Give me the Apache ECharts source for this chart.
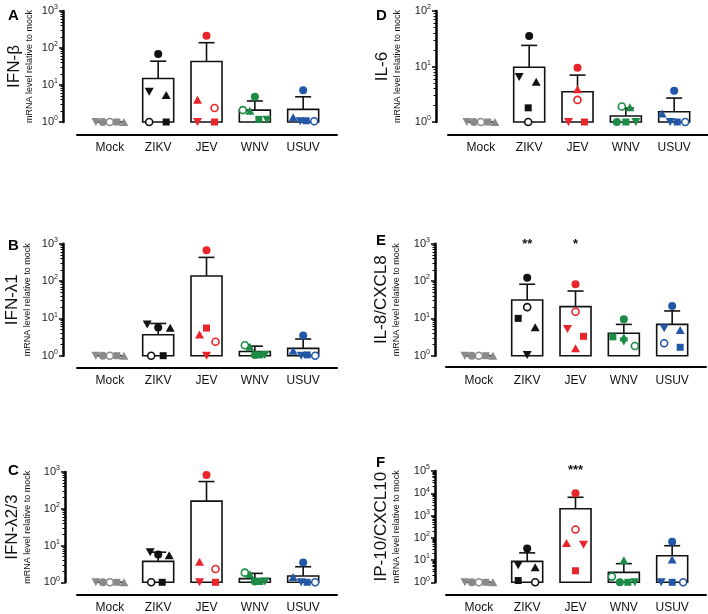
<!DOCTYPE html>
<html>
<head>
<meta charset="utf-8">
<script src="https://cdn.jsdelivr.net/npm/echarts@6/dist/echarts.min.js"></script>
<style>
html,body{margin:0;padding:0;background:#fff}
#chart{width:708px;height:614px}
</style>
</head>
<body>
<div id="chart"></div>
<script>
const categories = ['Mock', 'ZIKV', 'JEV', 'WNV', 'USUV'];
// five donors per group, always in this order
const donors = ['circle', 'openCircle', 'triangle', 'invTriangle', 'square'];

// A  IFN-beta
const meanA = [1, 15, 43, 2.1, 2.2];
const sdTopA = [1, 44, 139, 3.7, 4.8];
const dotsA = [[1, 1, 1, 1, 1], [69, 1, 5.4, 6.6, 1], [215, 2.4, 4.0, 1, 1], [4.8, 2.1, 2.0, 1.15, 1.18], [7.2, 1.05, 1.35, 1.05, 1.08]];
// B  IFN-lambda1
const meanB = [1, 3.65, 136, 1.3, 1.57];
const sdTopB = [1, 7.3, 430, 1.8, 2.8];
const dotsB = [[1, 1, 1, 1, 1], [5.7, 1, 5.6, 6.8, 1], [665, 2.37, 3.7, 1, 5.5], [1.05, 1.9, 1.75, 1.05, 1.05], [3.5, 1, 1.36, 1, 1.05]];
// C  IFN-lambda2/3
const meanC = [1, 3.7, 161, 1.26, 1.48];
const sdTopC = [1, 6.6, 550, 1.75, 2.65];
const dotsC = [[1, 1, 1, 1, 1], [5.7, 1, 5.4, 6.6, 1], [830, 2.3, 3.6, 1, 1], [1.05, 1.83, 1.65, 1.05, 1.05], [3.47, 1, 1.4, 1, 1]];
// D  IL-6
const meanD = [1, 9.7, 3.5, 1.28, 1.53];
const sdTopD = [1, 24, 7, 1.78, 2.7];
const dotsD = [[1, 1, 1, 1, 1], [35.5, 1, 5.3, 6.5, 1.8], [9.5, 2.5, 3.9, 1, 1], [1, 1.9, 1.85, 1, 1], [3.67, 1, 1.43, 1, 1]];
// E  IL-8/CXCL8
const meanE = [1, 31, 20.6, 4.0, 6.9];
const sdTopE = [1, 82, 54, 6.9, 15.8];
const dotsE = [[1, 1, 1, 1, 1], [123, 20, 5.8, 1.04, 10], [82, 15, 1.58, 5.2, 3.3], [9.5, 1.82, 3.1, 2.4, 3.2], [21.5, 2.15, 4.9, 5.4, 1.68]];
const starsE = ['', '**', '*', '', ''];
// F  IP-10/CXCL10
const meanF = [1, 8.7, 2000, 2.8, 15.6];
const sdTopF = [1, 21, 6600, 6.9, 44];
const dotsF = [[1, 1, 1, 1, 1], [33, 1, 4.7, 5.8, 1.2], [10000, 236, 58, 49, 3.3], [1, 1.8, 9.7, 1, 1], [66, 1, 10.7, 1, 1]];
const starsF = ['', '', '***', '', ''];

// horizontal spread of the dots inside each group (px)
const mockSpread = [-7, 0, 14, -14, 7];
const spreadA = [mockSpread, [0, -9, 8, -9, 8], [0, 8, -9, -9, 8], [0, -12, -5, 12, 4], [0, 11, -10, -3, 3]];
const spreadB = [mockSpread, [0, -7, 12, -11, 5], [0, 9, -7, 0, 0], [0, -10, -5, 10, 5], [0, 12, -10, -2, 4]];
const spreadC = [mockSpread, [0, -7, 11, -8, 4], [0, 9, -7, -7, 9], [0, -10, -5, 10, 5], [0, 12, -10, -2, 4]];
const spreadD = [mockSpread, [0, -1, 7, -10, -1], [0, 0, 0, -9, 7], [-9, -4, 4, 10, 0], [0, 11, -12, -4, 3]];
const spreadE = [mockSpread, [0, 0, 8, 0, -9], [0, 0, 0, -8, 8], [0, 11, 0, 0, -11], [0, -8, 8, -8, 8]];
const spreadF = [mockSpread, [0, 8, 8, -9, -9], [0, 0, -9, 8, 0], [-4, -12, 0, 11, 4], [0, 11, 0, -11, 0]];

const colors = ['#8a8a8a', '#111111', '#e8252b', '#1b8b45', '#2257a8'];
const font = '"Liberation Sans", Arial, sans-serif';

const panels = [
  {letter: 'A', title: 'IFN-β', max: 1000, mean: meanA, top: sdTopA, dots: dotsA, spread: spreadA, stars: null,
   left: 77, gridTop: 11, height: 111, xOff: 13, yOff: 14, gap: 28, lx: 3, ly: 3},
  {letter: 'B', title: 'IFN-λ1', max: 1000, mean: meanB, top: sdTopB, dots: dotsB, spread: spreadB, stars: null,
   left: 77, gridTop: 243.7, height: 112, xOff: 12, yOff: 14, gap: 30, lx: 3, ly: 233},
  {letter: 'C', title: 'IFN-λ2/3', max: 1000, mean: meanC, top: sdTopC, dots: dotsC, spread: spreadC, stars: null,
   left: 77, gridTop: 472, height: 111, xOff: 12.7, yOff: 12, gap: 32, lx: 3, ly: 458},
  {letter: 'D', title: 'IL-6', max: 100, mean: meanD, top: sdTopD, dots: dotsD, spread: spreadD, stars: null,
   left: 448, gridTop: 11, height: 111, xOff: 13, yOff: 12, gap: 33, lx: 371, ly: 3},
  {letter: 'E', title: 'IL-8/CXCL8', max: 1000, mean: meanE, top: sdTopE, dots: dotsE, spread: spreadE, stars: starsE, starDy: 1,
   left: 446, gridTop: 243.7, height: 112, xOff: 11.5, yOff: 11, gap: 33, lx: 371, ly: 228},
  {letter: 'F', title: 'IP-10/CXCL10', max: 100000, mean: meanF, top: sdTopF, dots: dotsF, spread: spreadF, stars: starsF, starDy: -1,
   left: 446, gridTop: 471, height: 112, xOff: 12.7, yOff: 11, gap: 33, lx: 371, ly: 450}
];

const grid = [], xAxis = [], yAxis = [], series = [], title = [];

panels.forEach((p, k) => {
  grid.push({left: p.left, top: p.gridTop, width: 260, height: p.height});
  title.push({text: p.letter, left: p.lx, top: p.ly, textStyle: {fontFamily: font, fontWeight: 'bold', fontSize: 15, color: '#000'}});
  xAxis.push({
    gridIndex: k, type: 'value', min: -0.68, max: 4.7, offset: p.xOff,
    axisLine: {onZero: false, lineStyle: {color: '#000', width: 2}},
    axisTick: {show: false}, splitLine: {show: false},
    axisLabel: {customValues: [0, 1, 2, 3, 4], formatter: v => categories[Math.round(v)],
      fontFamily: font, fontSize: 12, color: '#111', margin: 7}
  });
  yAxis.push({
    gridIndex: k, type: 'log', logBase: 10, min: 1, max: p.max, offset: p.yOff,
    name: '{t|' + p.title + '}\n{s|mRNA level relative to mock}',
    nameLocation: 'middle', nameRotate: 90, nameGap: p.gap,
    nameTextStyle: {rich: {
      t: {fontFamily: font, fontSize: 17, lineHeight: 19, color: '#111'},
      s: {fontFamily: font, fontSize: 9, lineHeight: 11, color: '#111'}
    }},
    axisLine: {show: true, onZero: false, lineStyle: {color: '#000', width: 2.5}},
    axisTick: {show: true, length: 4, lineStyle: {color: '#000', width: 1.5}},
    minorTick: {show: true, splitNumber: 9, length: 2.5, lineStyle: {color: '#000', width: 1}},
    splitLine: {show: false}, minorSplitLine: {show: false},
    axisLabel: {
      margin: 5, color: '#222',
      formatter: v => '{b|10}{e|' + Math.round(Math.log10(v)) + '}',
      rich: {
        b: {fontFamily: font, fontSize: 11, lineHeight: 14, color: '#222'},
        e: {fontFamily: font, fontSize: 7, lineHeight: 14, verticalAlign: 'top', color: '#222'}
      }
    }
  });

  // bars with upper error bar (mean + SD)
  series.push({
    type: 'custom', xAxisIndex: k, yAxisIndex: k, z: 2, clip: false,
    data: categories.map((c, i) => [i, p.mean[i], p.top[i]]),
    renderItem(params, api) {
      const i = api.value(0);
      const base = api.coord([i, 1]);
      const m = api.coord([i, api.value(1)]);
      const t = api.coord([i, api.value(2)]);
      const w = 31, cap = 16;
      const st = {stroke: '#111', lineWidth: 1.6, fill: null};
      const children = [];
      if (api.value(2) > api.value(1)) {
        children.push({type: 'line', shape: {x1: t[0], y1: m[1], x2: t[0], y2: t[1]}, style: st});
        children.push({type: 'line', shape: {x1: t[0] - cap / 2, y1: t[1], x2: t[0] + cap / 2, y2: t[1]}, style: st});
      }
      children.push({type: 'rect', shape: {x: base[0] - w / 2, y: m[1], width: w, height: base[1] - m[1]},
        style: {fill: '#fff', stroke: '#111', lineWidth: 1.6}});
      return {type: 'group', children};
    }
  });

  // individual donors
  const dotData = [];
  p.dots.forEach((vals, i) => {
    vals.forEach((v, d) => {
      const kind = donors[d];
      const c = colors[i];
      const item = {value: [i, v], symbolOffset: [p.spread[i][d], 0]};
      if (kind === 'circle') { item.symbol = 'circle'; item.symbolSize = 8; item.itemStyle = {color: c}; }
      if (kind === 'openCircle') { item.symbol = 'circle'; item.symbolSize = 7; item.itemStyle = {color: '#fff', borderColor: c, borderWidth: 1.6}; }
      if (kind === 'triangle') { item.symbol = 'triangle'; item.symbolSize = [9, 8]; item.itemStyle = {color: c}; }
      if (kind === 'invTriangle') { item.symbol = 'triangle'; item.symbolRotate = 180; item.symbolSize = [9, 8]; item.itemStyle = {color: c}; }
      if (kind === 'square') { item.symbol = 'rect'; item.symbolSize = 7; item.itemStyle = {color: c}; }
      item.itemStyle.opacity = 1;
      dotData.push(item);
    });
  });
  // draw mock open circle last so it sits on top of the grey cluster
  dotData.sort((a, b) => (a.value[0] === 0 && a.itemStyle.color === '#fff') - (b.value[0] === 0 && b.itemStyle.color === '#fff'));
  series.push({type: 'scatter', xAxisIndex: k, yAxisIndex: k, z: 3, clip: false, data: dotData});

  if (p.stars) {
    series.push({
      type: 'custom', xAxisIndex: k, yAxisIndex: k, z: 4, clip: false,
      data: p.stars.map((s, i) => [i, p.max, s]),
      renderItem(params, api) {
        const s = p.stars[api.value(0)];
        if (!s) return null;
        const pt = api.coord([api.value(0), api.value(1)]);
        return {type: 'text', x: pt[0], y: pt[1] + p.starDy,
          style: {text: s, fontFamily: font, fontSize: 13, fontWeight: 'bold', fill: '#111', align: 'center', verticalAlign: 'middle'}};
      }
    });
  }
});

const myChart = echarts.init(document.getElementById('chart'));
myChart.setOption({animation: false, title, grid, xAxis, yAxis, series});
window.addEventListener('resize', () => myChart.resize());
</script>
</body>
</html>
